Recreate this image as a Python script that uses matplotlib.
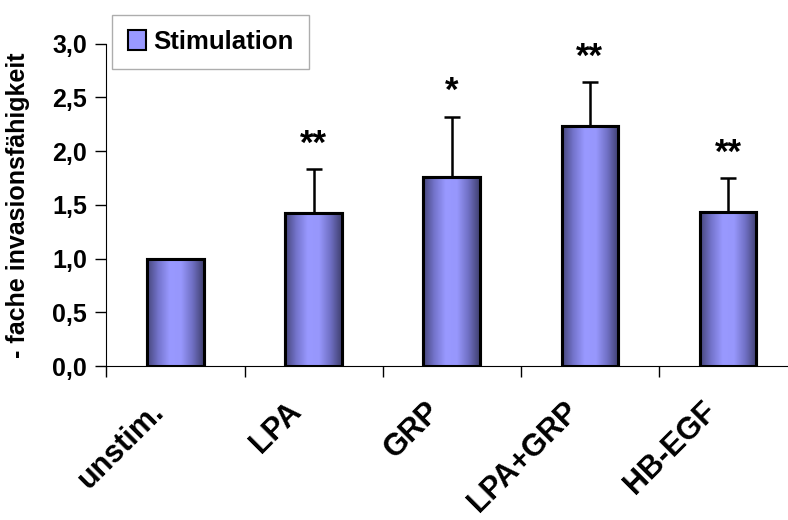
import matplotlib.pyplot as plt
import matplotlib.transforms as mtransforms
import numpy as np
from matplotlib.colors import LinearSegmentedColormap
from matplotlib.patches import Patch

plt.rcParams['font.family'] = ['Liberation Sans', 'DejaVu Sans']
plt.rcParams['font.weight'] = 'bold'

categories = ['unstim.', 'LPA', 'GRP', 'LPA+GRP', 'HB-EGF']
values = [1.0, 1.42, 1.76, 2.23, 1.43]
errors = [0.0, 0.41, 0.56, 0.41, 0.32]
stars = ['', '**', '*', '**', '**']
yticks = [0.0, 0.5, 1.0, 1.5, 2.0, 2.5, 3.0]

fig = plt.figure(figsize=(7.88, 5.2), dpi=100)
ax = fig.add_axes([0.135, 0.296, 0.88, 0.62])

x = np.arange(len(categories))
bars = ax.bar(x, values, width=0.41, color='#9999ff', edgecolor='black', linewidth=2.2, zorder=3)
ax.errorbar(x, values, yerr=[np.zeros(len(errors)), errors], fmt='none', ecolor='black',
            elinewidth=1.8, capsize=6, capthick=1.8, zorder=2)

# left-to-right shading of the bars
cmap = LinearSegmentedColormap.from_list('g', [(0, '#45457a'), (0.2, '#7474cc'), (0.4, '#9999ff'),
                                                (0.6, '#9797fc'), (0.8, '#7070c4'), (1, '#3f3f6e')])
grad = np.linspace(0, 1, 256).reshape(1, -1)
for b in bars:
	bx, by = b.get_x(), b.get_y()
	w, h = b.get_width(), b.get_height()
	im = ax.imshow(grad, cmap=cmap, aspect='auto', extent=[bx, bx + w, by, by + h], zorder=3.5)
	im.set_clip_path(b)
	ax.bar(bx + w / 2, h, width=w, fill=False, edgecolor='black', linewidth=2.2, zorder=4)

for i, s in enumerate(stars):
	if s:
		ax.text(x[i], values[i] + errors[i] + 0.08, s, ha='center', va='bottom', fontsize=25, fontweight='bold')

ax.set_xlim(-0.5, len(categories) - 0.5 + 0.02)
ax.set_ylim(0, 3.0)
ax.set_yticks(yticks)
ax.set_yticklabels([('%.1f' % t).replace('.', ',') for t in yticks], fontsize=18, fontweight='bold')
ax.set_xticks(x - 0.5)
ax.set_xticklabels([])
ax.set_xticks(x, minor=True)
ax.tick_params(axis='x', which='major', direction='out', length=8, width=1)
ax.tick_params(axis='x', which='minor', length=0, pad=14)
ax.tick_params(axis='y', direction='out', length=8, width=1, pad=6)
ax.set_xticklabels(categories, minor=True, rotation=45, ha='right', va='top', rotation_mode='anchor',
                   fontsize=22, fontweight='bold')
shift = mtransforms.ScaledTranslation(-27 / 100, -11 / 100, fig.dpi_scale_trans)
for lab in ax.get_xticklabels(minor=True):
	lab.set_transform(lab.get_transform() + shift)
for sp in ['top', 'right']:
	ax.spines[sp].set_visible(False)

ax.set_ylabel('- fache invasionsfähigkeit', fontsize=18, fontweight='bold')
ax.yaxis.set_label_coords(-0.11, 0.5)

leg = ax.legend(handles=[Patch(facecolor='#9999ff', edgecolor='black', linewidth=1.5)], labels=['Stimulation'],
                loc='upper left', bbox_to_anchor=(-0.01, 1.13), fontsize=18.5, frameon=True, fancybox=False,
                handlelength=0.7, handleheight=0.8, handletextpad=0.3, borderpad=0.6)
leg.get_frame().set_edgecolor('#999999')
leg.get_frame().set_linewidth(1)
for t in leg.get_texts():
	t.set_fontweight('bold')

fig.savefig('out.png', dpi=100)
